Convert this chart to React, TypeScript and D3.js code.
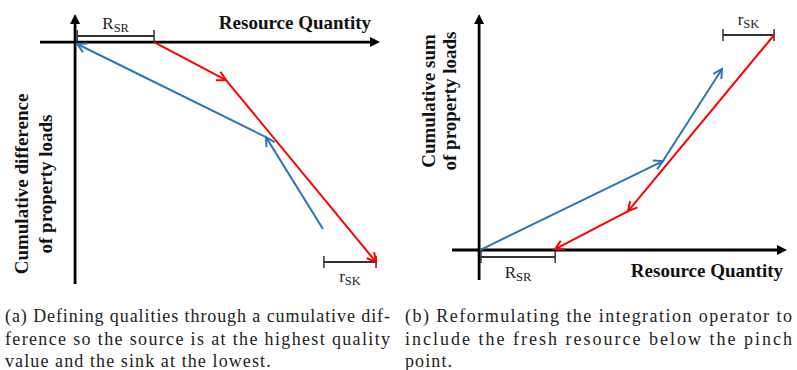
import React from "react";
import * as d3 from "d3";

// ---------- data (abstract units: resource quantity q, cumulative value v) ----------
const panelARed = [
  { q: 25.9, v: 0 },
  { q: 49.5, v: -15.7 },
  { q: 98.7, v: -90.9 },
];
const panelABlue = [
  { q: 81.3, v: -77.3 },
  { q: 62.6, v: -39.3 },
  { q: 0.7, v: -0.8 },
];
const panelBBlue = [
  { q: 0.3, v: 0 },
  { q: 59.7, v: 37.7 },
  { q: 78.9, v: 76.7 },
];
const panelBRed = [
  { q: 95.8, v: 91.1 },
  { q: 48.4, v: 16.5 },
  { q: 24.7, v: 0.4 },
];
// brackets: [q0, q1, v]
const panelABrackets = [
  { q0: 0.7, q1: 25.9, v: 2.5, main: "R", sub: "SR", labelV: 5.4 },
  { q0: 81.6, q1: 98.7, v: -90.9, main: "r", sub: "SK", labelV: -99.2 },
];
const panelBBrackets = [
  { q0: 0.6, q1: 24.7, v: -3, main: "R", sub: "SR", labelV: -11.8 },
  { q0: 79.2, q1: 95.8, v: 91.1, main: "r", sub: "SK", labelV: 95.3 },
];
const axisTitle = "Resource Quantity";
const yTitleA = ["Cumulative difference", "of property loads"];
const yTitleB = ["Cumulative sum", "of property loads"];
const captionA = [
  "(a) Defining qualities through a cumulative dif-",
  "ference so the source is at the highest quality",
  "value and the sink at the lowest.",
];
const captionB = [
  "(b) Reformulating the integration operator to",
  "include the fresh resource below the pinch",
  "point.",
];

const RED = "#ff0000";
const BLUE = "#2e75b6";
const BOLD = "'Liberation Serif', 'Times New Roman', serif";

type P = { q: number; v: number };

function arrowHead(x0: number, y0: number, x1: number, y1: number, len = 10, ang = 0.5) {
  const a = Math.atan2(y1 - y0, x1 - x0);
  const p1 = [x1 - len * Math.cos(a - ang), y1 - len * Math.sin(a - ang)];
  const p2 = [x1 - len * Math.cos(a + ang), y1 - len * Math.sin(a + ang)];
  return `M${p1[0]},${p1[1]}L${x1},${y1}L${p2[0]},${p2[1]}`;
}

function ArrowSeries({ pts, x, y, color }: { pts: P[]; x: any; y: any; color: string }) {
  const segs = [];
  for (let i = 0; i < pts.length - 1; i++) {
    const x0 = x(pts[i].q), y0 = y(pts[i].v), x1 = x(pts[i + 1].q), y1 = y(pts[i + 1].v);
    const line = d3.line()([[x0, y0], [x1, y1]]) as string;
    segs.push(
      <g key={i}>
        <path d={line} stroke={color} strokeWidth={2} fill="none" />
        <path d={arrowHead(x0, y0, x1, y1)} stroke={color} strokeWidth={2} fill="none" strokeLinejoin="miter" />
      </g>
    );
  }
  return <g>{segs}</g>;
}

function Bracket({ b, x, y, below }: { b: any; x: any; y: any; below?: boolean }) {
  const x0 = x(b.q0), x1 = x(b.q1), yy = y(b.v);
  const ly = y(b.labelV);
  return (
    <g>
      <path d={`M${x0},${yy}H${x1}`} stroke="#333" strokeWidth={2} />
      <path d={`M${x0},${yy - 6}V${yy + 6}M${x1},${yy - 6}V${yy + 6}`} stroke="#333" strokeWidth={1.5} />
      <text x={(x0 + x1) / 2} y={ly} textAnchor="middle" fontFamily={BOLD} fontSize={17} fill="#222">
        {b.main}
        <tspan fontSize={12.5} dy={3}>{b.sub}</tspan>
      </text>
    </g>
  );
}

function Axes({ xr, yr, ox, oy, upArrow }: any) {
  // x axis from xr[0] to xr[1] at oy, arrow at right; y axis from yr[0] (bottom) to yr[1] (top) at ox
  const ah = 10, aw = 5;
  return (
    <g>
      <path d={`M${xr[0]},${oy}H${xr[1] - ah + 1}`} stroke="#000" strokeWidth={2.8} />
      <path d={`M${xr[1]},${oy}L${xr[1] - ah},${oy - aw}L${xr[1] - ah},${oy + aw}Z`} fill="#000" />
      <path d={`M${ox},${yr[0]}V${yr[1] + ah - 1}`} stroke="#000" strokeWidth={2.8} />
      <path d={`M${ox},${yr[1]}L${ox - aw},${yr[1] + ah}L${ox + aw},${yr[1] + ah}Z`} fill="#000" />
    </g>
  );
}

function YTitle({ lines, cx, cy, baselines }: any) {
  return (
    <g>
      {lines.map((l: string, i: number) => (
        <text
          key={i}
          transform={`translate(${baselines[i]},${cy}) rotate(-90)`}
          textAnchor="middle"
          fontFamily={BOLD}
          fontWeight="bold"
          fontSize={19}
          fill="#111"
        >
          {l}
        </text>
      ))}
    </g>
  );
}

function Caption({ lines, x0, x1, ys }: any) {
  return (
    <g>
      {lines.map((l: string, i: number) =>
        i < lines.length - 1 ? (
          <text key={i} x={x0} y={ys[i]} fontFamily={BOLD} fontSize={18} fill="#222" textLength={x1 - x0} lengthAdjust="spacing">
            {l}
          </text>
        ) : (
          <text key={i} x={x0} y={ys[i]} fontFamily={BOLD} fontSize={18} fill="#222" letterSpacing={1.1}>
            {l}
          </text>
        )
      )}
    </g>
  );
}

export default function App() {
  // Panel A scales
  const xA = d3.scaleLinear().domain([-11.5, 100]).range([40, 380]);
  const yA = d3.scaleLinear().domain([11.6, -100]).range([14, 284]);
  // Panel B scales
  const xB = d3.scaleLinear().domain([-8.8, 100]).range([452, 787]);
  const yB = d3.scaleLinear().domain([-12.7, 100]).range([280, 14]);

  const capYs = [322, 344.5, 367];

  return (
    <svg width={797} height={370} style={{ position: "absolute", left: 0, top: 0, background: "#fff" }}>
      <rect width={797} height={370} fill="#fff" />
      {/* Panel A */}
      <Axes xr={[xA(-11.5), xA(100)]} yr={[yA(-100), yA(11.6)]} ox={xA(0)} oy={yA(0)} />
      <text x={371} y={29} textAnchor="end" fontFamily={BOLD} fontWeight="bold" fontSize={19} fill="#111">
        {axisTitle}
      </text>
      <YTitle lines={yTitleA} cy={184} baselines={[28, 52]} />
      {panelABrackets.map((b, i) => (
        <Bracket key={i} b={b} x={xA} y={yA} />
      ))}
      <ArrowSeries pts={panelABlue} x={xA} y={yA} color={BLUE} />
      <ArrowSeries pts={panelARed} x={xA} y={yA} color={RED} />
      <Caption lines={captionA} x0={5} x1={390} ys={capYs} />

      {/* Panel B */}
      <Axes xr={[xB(-8.8), xB(100)]} yr={[yB(-12.7), yB(100)]} ox={xB(0)} oy={yB(0)} />
      <text x={783} y={277} textAnchor="end" fontFamily={BOLD} fontWeight="bold" fontSize={19} fill="#111">
        {axisTitle}
      </text>
      <YTitle lines={yTitleB} cy={101} baselines={[435, 456]} />
      {panelBBrackets.map((b, i) => (
        <Bracket key={i} b={b} x={xB} y={yB} />
      ))}
      <ArrowSeries pts={panelBBlue} x={xB} y={yB} color={BLUE} />
      <ArrowSeries pts={panelBRed} x={xB} y={yB} color={RED} />
      <Caption lines={captionB} x0={405} x1={792} ys={capYs} />
    </svg>
  );
}
